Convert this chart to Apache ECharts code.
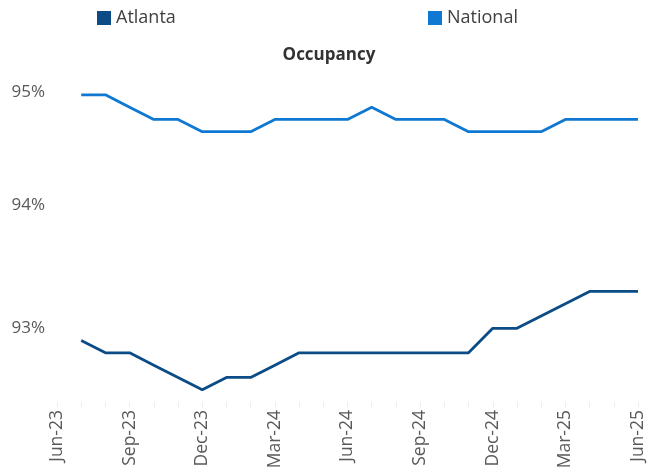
<!DOCTYPE html>
<html>
<head>
<meta charset="utf-8">
<script src="https://cdn.jsdelivr.net/npm/echarts@6/dist/echarts.min.js"></script>
<style>
  html, body { margin: 0; padding: 0; background: #ffffff; }
  #chart { width: 647px; height: 475px; }
</style>
</head>
<body>
<div id="chart"></div>
<script>
const categories = ['Jun-23','Jul-23','Aug-23','Sep-23','Oct-23','Nov-23','Dec-23',
  'Jan-24','Feb-24','Mar-24','Apr-24','May-24','Jun-24','Jul-24','Aug-24','Sep-24',
  'Oct-24','Nov-24','Dec-24','Jan-25','Feb-25','Mar-25','Apr-25','May-25','Jun-25'];
const atlanta = [null, 92.9, 92.8, 92.8, 92.7, 92.6, 92.5, 92.6, 92.6, 92.7, 92.8, 92.8, 92.8,
  92.8, 92.8, 92.8, 92.8, 92.8, 93.0, 93.0, 93.1, 93.2, 93.3, 93.3, 93.3];
const national = [null, 94.9, 94.9, 94.8, 94.7, 94.7, 94.6, 94.6, 94.6, 94.7, 94.7, 94.7, 94.7,
  94.8, 94.7, 94.7, 94.7, 94.6, 94.6, 94.6, 94.6, 94.7, 94.7, 94.7, 94.7];
const yTickLabels = [93, 94, 95];

const FONT = '"Open Sans", sans-serif';
const chart = echarts.init(document.getElementById('chart'), null, { renderer: 'canvas' });
chart.setOption({
  animation: false,
  backgroundColor: '#ffffff',
  title: {
    text: 'Occupancy',
    left: 329,
    top: 47,
    padding: 0,
    textAlign: 'center',
    textStyle: { fontFamily: FONT, fontSize: 17, fontWeight: 'bold', color: '#333333' }
  },
  legend: [
    {
      data: ['Atlanta'], left: 97, top: 9, padding: 0,
      itemWidth: 14, itemHeight: 14, itemGap: 6, icon: 'rect',
      textStyle: { fontFamily: FONT, fontSize: 18, color: '#404040' }
    },
    {
      data: ['National'], left: 428, top: 9, padding: 0,
      itemWidth: 14, itemHeight: 14, itemGap: 6, icon: 'rect',
      textStyle: { fontFamily: FONT, fontSize: 18, color: '#404040' }
    }
  ],
  grid: { left: 57, right: 7, top: 58, bottom: 73, containLabel: false },
  xAxis: {
    type: 'category',
    data: categories,
    boundaryGap: false,
    axisLine: { show: false },
    axisTick: { show: true, interval: 0, length: 6, lineStyle: { color: '#eeeeee' } },
    axisLabel: {
      interval: 2, rotate: 90, margin: 8,
      fontFamily: FONT, fontSize: 17.5, color: '#595959'
    },
    splitLine: { show: false }
  },
  yAxis: {
    type: 'value',
    min: 92.4, max: 95.2, interval: 0.2,
    axisLine: { show: false },
    axisTick: { show: false },
    splitLine: { show: false },
    axisLabel: {
      margin: 12, fontFamily: FONT, fontSize: 17, color: '#595959',
      rich: {
        low: { fontFamily: FONT, fontSize: 17, color: '#595959', padding: [20, 0, 0, 0] }
      },
      formatter: function (v) {
        for (const t of yTickLabels) {
          if (Math.abs(v - t) < 1e-6) {
            return t === yTickLabels[yTickLabels.length - 1] ? '{low|' + t + '%}' : t + '%';
          }
        }
        return '';
      }
    }
  },
  series: [
    {
      name: 'Atlanta', type: 'line', data: atlanta, showSymbol: false, symbol: 'none',
      color: '#0B4C86', lineStyle: { width: 2.8, color: '#0B4C86' }
    },
    {
      name: 'National', type: 'line', data: national, showSymbol: false, symbol: 'none',
      color: '#0E78D2', lineStyle: { width: 2.8, color: '#0E78D2' }
    }
  ]
});
</script>
</body>
</html>
